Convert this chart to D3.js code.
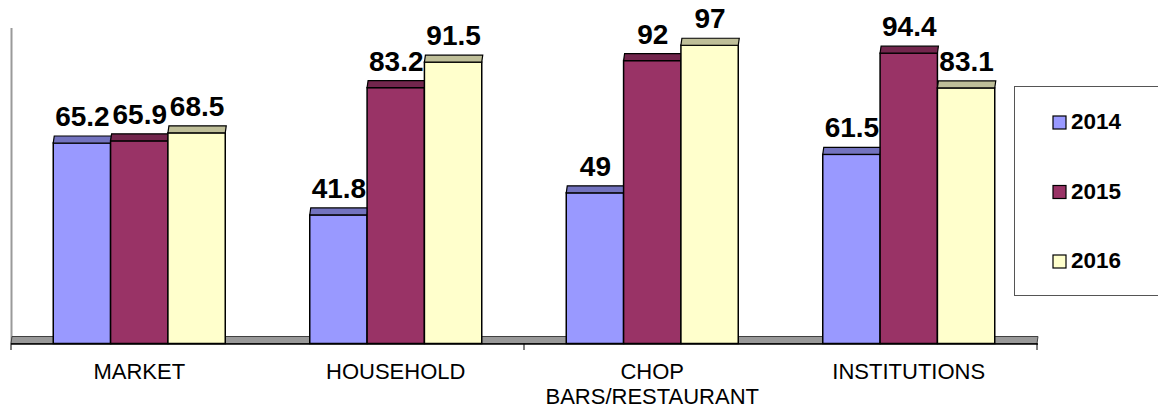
<!DOCTYPE html>
<html><head><meta charset="utf-8">
<script src="https://cdn.jsdelivr.net/npm/d3@7"></script>
<style>body{margin:0;background:#fff}svg{display:block}</style>
</head><body>
<svg id="c" width="1158" height="408"></svg>
<script>
const categories = [["MARKET"], ["HOUSEHOLD"], ["CHOP", "BARS/RESTAURANT"], ["INSTITUTIONS"]];
const seriesNames = ["2014", "2015", "2016"];
const values2014 = [65.2, 41.8, 49, 61.5];
const values2015 = [65.9, 83.2, 92, 94.4];
const values2016 = [68.5, 91.5, 97, 83.1];
const fills = ["#9999FF", "#993366", "#FFFFCC"];
const capFills = ["#7373BF", "#73264D", "#BFBF99"];

const series = [values2014, values2015, values2016];
const svg = d3.select("#c");
const font = "'Liberation Sans', Arial, sans-serif";
const catKeys = categories.map(c => c.join(" "));
const x0 = d3.scaleBand().domain(catKeys).range([11, 1037]).padding(0);
const groupW = 172;
const x1 = d3.scaleBand().domain(seriesNames).range([0, groupW]);
const y = d3.scaleLinear().domain([0, 100]).range([343.5, 36]);
const dx = 1, dy = 7;

// back wall axis line
svg.append("line").attr("x1", 11.5).attr("x2", 11.5).attr("y1", 28).attr("y2", 344)
  .attr("stroke", "#9a9a9a").attr("stroke-width", 2);

// floor
const fl = 11, fr = 1037, fb = y(0), ft = y(0) - dy;
svg.append("path")
  .attr("d", `M${fl},${fb}L${fr},${fb}L${fr + dx},${ft}L${fl + dx},${ft}Z`)
  .attr("fill", "#999999").attr("stroke", "#404040").attr("stroke-width", 1);
svg.append("line").attr("x1", fl).attr("x2", fr + 1).attr("y1", fb + 0.5).attr("y2", fb + 0.5)
  .attr("stroke", "#000").attr("stroke-width", 1.5);

// ticks every 2 categories
[0, 2, 4].forEach(i => {
  const tx = 11 + i * x0.bandwidth();
  svg.append("line").attr("x1", tx).attr("x2", tx).attr("y1", fb).attr("y2", fb + 6.5)
    .attr("stroke", "#000").attr("stroke-width", 1);
});

// bars
categories.forEach((c, ci) => {
  const gx = x0(catKeys[ci]) + (x0.bandwidth() - groupW) / 2;
  seriesNames.forEach((s, si) => {
    const v = series[si][ci];
    const bx = gx + x1(s), bw = x1.bandwidth();
    const top = y(v), bot = y(0);
    svg.append("rect").attr("x", bx).attr("y", top).attr("width", bw).attr("height", bot - top)
      .attr("fill", fills[si]).attr("stroke", "#000").attr("stroke-width", 1.5);
    svg.append("path")
      .attr("d", `M${bx},${top}L${bx + bw},${top}L${bx + bw + dx},${top - dy}L${bx + dx},${top - dy}Z`)
      .attr("fill", capFills[si]).attr("stroke", "#000").attr("stroke-width", 1.2);
    svg.append("text").attr("x", bx + bw / 2 + 0.5).attr("y", top - dy - 10)
      .attr("text-anchor", "middle").attr("font-family", font).attr("font-weight", "bold")
      .attr("font-size", 28).attr("fill", "#000").text(v);
  });
  const t = svg.append("text").attr("text-anchor", "middle").attr("font-family", font)
    .attr("font-size", 22).attr("fill", "#000");
  c.forEach((line, li) => {
    t.append("tspan").attr("x", x0(catKeys[ci]) + x0.bandwidth() / 2).attr("y", 379 + li * 25).text(line);
  });
});

// legend
svg.append("rect").attr("x", 1014.5).attr("y", 86.5).attr("width", 150).attr("height", 209)
  .attr("fill", "#fff").attr("stroke", "#555").attr("stroke-width", 1);
seriesNames.forEach((s, si) => {
  const ly = 129 + si * 69.5;
  svg.append("rect").attr("x", 1053).attr("y", ly - 13).attr("width", 13).attr("height", 13)
    .attr("fill", fills[si]).attr("stroke", "#000").attr("stroke-width", 1.2);
  svg.append("text").attr("x", 1071).attr("y", ly).attr("font-family", font)
    .attr("font-weight", "bold").attr("font-size", 22.5).attr("fill", "#000").text(s);
});
</script>
</body></html>
